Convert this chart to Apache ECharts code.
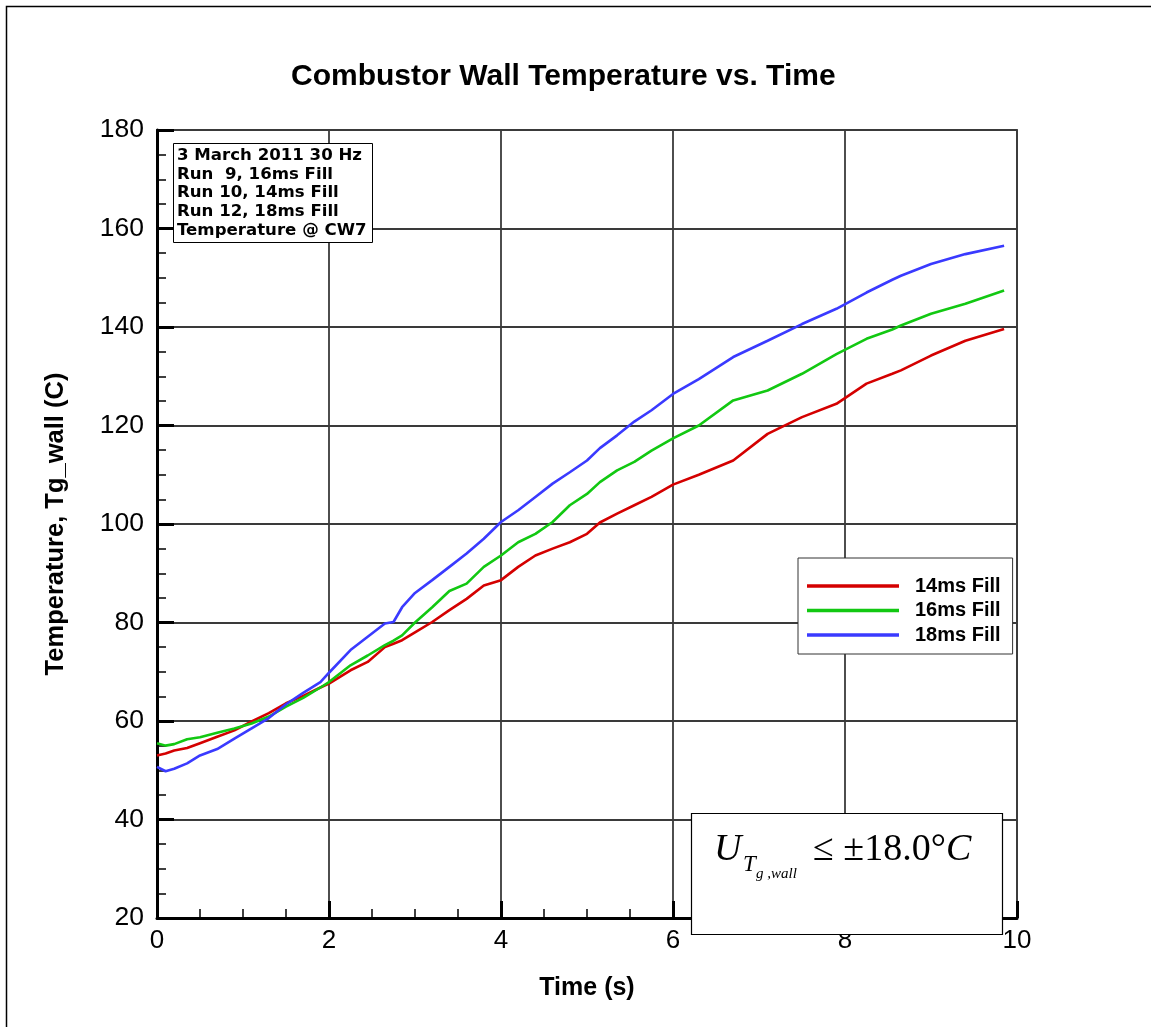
<!DOCTYPE html>
<html>
<head>
<meta charset="utf-8">
<script src="https://cdn.jsdelivr.net/npm/echarts@6/dist/echarts.min.js"></script>
<style>
html,body{margin:0;padding:0;background:#fff;}
#chart{width:1151px;height:1027px;}
</style>
</head>
<body>
<div id="chart"></div>
<script>
// Time samples (s)
var timeS = [0, 0.1, 0.2, 0.35, 0.5, 0.7, 0.9, 1.1, 1.3, 1.5, 1.7, 1.9, 2.0, 2.25, 2.45, 2.65, 2.75, 2.85, 3.0, 3.2, 3.4, 3.6, 3.8, 4.0, 4.2, 4.4, 4.6, 4.8, 5.0, 5.15, 5.35, 5.55, 5.75, 6.0, 6.3, 6.7, 7.1, 7.5, 7.9, 8.25, 8.55, 8.65, 9.0, 9.4, 9.85];
// Temperature (C) for each run
var fill14 = [53.0, 53.4, 54.0, 54.5, 55.5, 56.8, 58.1, 59.9, 61.6, 63.6, 65.1, 66.8, 67.6, 70.3, 72.0, 75.0, 75.7, 76.4, 78.0, 80.1, 82.5, 84.8, 87.5, 88.6, 91.3, 93.6, 95.0, 96.3, 98.0, 100.3, 102.1, 103.8, 105.5, 108.0, 110.0, 112.9, 118.3, 121.7, 124.4, 128.5, 130.5, 131.2, 134.2, 137.2, 139.6];
var fill16 = [55.5, 55.0, 55.3, 56.3, 56.7, 57.6, 58.5, 59.5, 60.9, 62.9, 64.7, 66.8, 67.9, 71.3, 73.3, 75.4, 76.3, 77.4, 80.0, 83.1, 86.4, 87.9, 91.3, 93.6, 96.3, 98.0, 100.4, 103.8, 106.1, 108.5, 110.9, 112.6, 114.9, 117.4, 120.0, 125.1, 127.1, 130.5, 134.5, 137.6, 139.5, 140.3, 142.7, 144.7, 147.4];
var fill18 = [50.7, 49.8, 50.3, 51.4, 53.0, 54.3, 56.4, 58.5, 60.6, 63.4, 65.7, 67.9, 69.8, 74.4, 77.1, 79.8, 80.1, 83.1, 86.0, 88.6, 91.3, 94.0, 97.0, 100.4, 102.8, 105.5, 108.2, 110.5, 112.9, 115.4, 118.0, 120.8, 123.1, 126.4, 129.4, 133.9, 137.2, 140.6, 143.7, 147.0, 149.6, 150.4, 152.8, 154.8, 156.5];
var seriesNames = ['14ms Fill', '16ms Fill', '18ms Fill'];
var seriesColors = ['#d40000', '#12c812', '#3a3aff'];
var infoLines = ['3 March 2011 30 Hz', 'Run  9, 16ms Fill', 'Run 10, 14ms Fill', 'Run 12, 18ms Fill', 'Temperature @ CW7'];

function pairs(vals) {
  var out = [];
  for (var i = 0; i < timeS.length; i++) out.push([timeS[i], vals[i]]);
  return out;
}
var allVals = [fill14, fill16, fill18];
var series = allVals.map(function (v, i) {
  return {
    name: seriesNames[i],
    type: 'line',
    data: pairs(v),
    symbol: 'none',
    showSymbol: false,
    lineStyle: { color: seriesColors[i], width: 2.6 },
    itemStyle: { color: seriesColors[i] },
    z: 5
  };
});

var FONT = 'Liberation Sans, Arial, sans-serif';
var SERIF = 'Liberation Serif, Times New Roman, serif';
var chart = echarts.init(document.getElementById('chart'), null, { renderer: 'canvas' });
chart.setOption({
  backgroundColor: '#ffffff',
  animation: false,
  title: {
    text: 'Combustor Wall Temperature vs. Time',
    left: 286,
    top: 57,
    textStyle: { fontFamily: FONT, fontWeight: 'bold', fontSize: 30, color: '#000' }
  },
  grid: {
    left: 157, right: 134, top: 130, bottom: 109,
    show: true, borderColor: '#555', borderWidth: 2, backgroundColor: 'transparent'
  },
  legend: {
    left: 798, top: 558,
    orient: 'vertical',
    icon: 'rect',
    itemWidth: 92, itemHeight: 3.5,
    itemGap: 4.5,
    padding: [18, 12, 9, 9],
    backgroundColor: '#fff',
    borderColor: '#333', borderWidth: 1,
    data: seriesNames,
    textStyle: { fontFamily: FONT, fontWeight: 'bold', fontSize: 20, color: '#000', lineHeight: 20, padding: [0, 0, 0, 11] }
  },
  xAxis: {
    type: 'value', min: 0, max: 10, interval: 2,
    name: 'Time (s)', nameLocation: 'middle', nameGap: 58,
    nameTextStyle: { fontFamily: FONT, fontWeight: 'bold', fontSize: 25, color: '#000' },
    axisLine: { show: true, lineStyle: { color: '#000', width: 3 } },
    axisTick: { show: true, inside: true, length: 17, lineStyle: { color: '#000', width: 3 } },
    minorTick: { show: true, splitNumber: 4, length: 9, lineStyle: { color: '#000', width: 1.5 } },
    splitLine: { show: true, lineStyle: { color: '#3a3a3a', width: 1.8 } },
    axisLabel: { fontFamily: FONT, fontSize: 26, color: '#000', margin: 10 }
  },
  yAxis: {
    type: 'value', min: 20, max: 180, interval: 20,
    name: 'Temperature, Tg_wall (C)', nameLocation: 'middle', nameGap: 88,
    nameTextStyle: { fontFamily: FONT, fontWeight: 'bold', fontSize: 25.5, color: '#000' },
    axisLine: { show: true, lineStyle: { color: '#000', width: 3 } },
    axisTick: { show: true, inside: true, length: 17, lineStyle: { color: '#000', width: 3 } },
    minorTick: { show: true, splitNumber: 4, length: 9, lineStyle: { color: '#000', width: 1.5 } },
    splitLine: { show: true, lineStyle: { color: '#3a3a3a', width: 1.8 } },
    axisLabel: { fontFamily: FONT, fontSize: 26.5, color: '#000', margin: 13 }
  },
  graphic: [
    { type: 'rect', z: 0, silent: true, shape: { x: 6.5, y: 6.5, width: 1300, height: 1200 },
      style: { fill: 'none', stroke: '#000', lineWidth: 1.5 } },
    { type: 'rect', z: 100, shape: { x: 173.5, y: 143.5, width: 199, height: 99 },
      style: { fill: '#fff', stroke: '#000', lineWidth: 1 } },
    { type: 'text', z: 101, style: { x: 177, y: 146.5, text: infoLines.join('\n'), font: 'bold 16.6px DejaVu Sans, sans-serif', lineHeight: 18.6, fill: '#000', verticalAlign: 'top' } },
    { type: 'rect', z: 100, shape: { x: 691.5, y: 813.5, width: 311, height: 121 },
      style: { fill: '#fff', stroke: '#000', lineWidth: 1.2 } },
    { type: 'text', z: 101, style: { x: 714, y: 850, text: 'U', font: 'italic 38px ' + SERIF, fill: '#000', verticalAlign: 'middle' } },
    { type: 'text', z: 101, style: { x: 743, y: 865, text: 'T', font: 'italic 23px ' + SERIF, fill: '#000', verticalAlign: 'middle' } },
    { type: 'text', z: 101, style: { x: 756, y: 874, text: 'g ,wall', font: 'italic 15px ' + SERIF, fill: '#000', verticalAlign: 'middle' } },
    { type: 'text', z: 101, style: { x: 813, y: 850, text: '{a|\u2264 \u00b118.0\u00b0}{b|C}', verticalAlign: 'middle', fill: '#000',
      rich: { a: { font: '38px ' + SERIF, fill: '#000' }, b: { font: 'italic 38px ' + SERIF, fill: '#000' } } } }
  ],
  series: series
});
</script>
</body>
</html>
